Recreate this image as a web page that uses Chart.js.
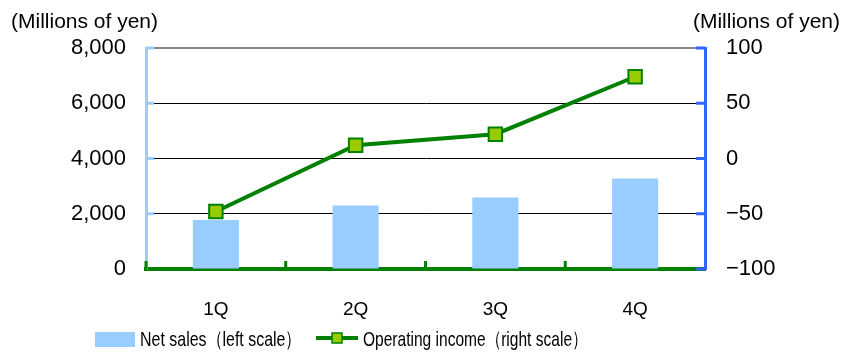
<!DOCTYPE html>
<html>
<head>
<meta charset="utf-8">
<script src="https://cdn.jsdelivr.net/npm/chart.js@4/dist/chart.umd.min.js"></script>
<style>
  html, body { margin: 0; padding: 0; background: #fff; }
  #wrap { width: 843px; height: 352px; }
</style>
</head>
<body>
<div id="wrap"><canvas id="salesChart" width="843" height="352"></canvas></div>
<script>
// quarterly figures
const quarters = ['1Q', '2Q', '3Q', '4Q'];
const netSales = [1770, 2300, 2590, 3280];
const operatingIncome = [-48, 12, 22, 74];
const salesTicks = [0, 2000, 4000, 6000, 8000];
const incomeTicks = [-100, -50, 0, 50, 100];

const unitLabel = '(Millions of yen)';
const salesLegend = 'Net sales（left scale）';
const incomeLegend = 'Operating income（right scale）';

const GREEN = '#008000';
const LIME = '#99cc00';
const SKY = '#99ccff';
const BLUE = '#3366ff';
const FAMILY = 'Liberation Sans, Arial, sans-serif';
const tickFont = { family: FAMILY, size: 22 };

function fmtMinus(v) {
  return v < 0 ? '\u2212' + Math.abs(v) : String(v);
}

// legend text is set in a condensed face; squeeze it horizontally
function narrowText(ctx, text, x, y, squeeze) {
  ctx.save();
  ctx.translate(x, y);
  ctx.scale(squeeze, 1);
  ctx.fillText(text, 0, 0);
  ctx.restore();
}

// axis ornaments, unit captions and the legend
const decorations = {
  id: 'decorations',
  afterDraw(chart) {
    const { ctx, chartArea: a, scales } = chart;
    ctx.save();

    // inward ticks on the left axis
    ctx.fillStyle = SKY;
    salesTicks.forEach(v => {
      if (v === 0) return;
      const y = scales.y.getPixelForValue(v);
      ctx.fillRect(a.left, y - 1.5, 8, 3);
    });
    // inward ticks on the right axis
    ctx.fillStyle = BLUE;
    incomeTicks.forEach(v => {
      const y = scales.y1.getPixelForValue(v);
      ctx.fillRect(a.right - 9, y - 1.5, 9, 3);
    });
    // upward ticks between categories
    ctx.fillStyle = GREEN;
    for (let i = 0; i < quarters.length; i++) {
      const x = i === 0 ? a.left : (scales.x.getPixelForValue(i - 1) + scales.x.getPixelForValue(i)) / 2;
      ctx.fillRect(x - 1.5, a.bottom - 8, 3, 9);
    }

    // unit captions
    ctx.fillStyle = '#000';
    ctx.font = '21px ' + FAMILY;
    ctx.textBaseline = 'middle';
    ctx.textAlign = 'left';
    ctx.fillText(unitLabel, 11, 22);
    ctx.textAlign = 'right';
    ctx.fillText(unitLabel, 840, 22);

    // legend
    const ly = 339;
    ctx.fillStyle = SKY;
    ctx.fillRect(95, 332, 40, 15);
    ctx.fillStyle = '#000';
    ctx.textAlign = 'left';
    ctx.font = '21px ' + FAMILY;
    narrowText(ctx, salesLegend, 140, ly + 1, 0.76);

    ctx.strokeStyle = GREEN;
    ctx.lineWidth = 4;
    ctx.beginPath();
    ctx.moveTo(316, ly - 1);
    ctx.lineTo(358, ly - 1);
    ctx.stroke();
    ctx.fillStyle = LIME;
    ctx.fillRect(332, ly - 6, 10, 10);
    ctx.lineWidth = 1.5;
    ctx.strokeRect(332, ly - 6, 10, 10);
    ctx.fillStyle = '#000';
    narrowText(ctx, incomeLegend, 363, ly + 1, 0.74);

    ctx.restore();
  }
};

const ctx = document.getElementById('salesChart').getContext('2d');
new Chart(ctx, {
  data: {
    labels: quarters,
    datasets: [
      {
        type: 'line',
        label: 'Operating income',
        data: operatingIncome,
        yAxisID: 'y1',
        order: 1,
        borderColor: GREEN,
        borderWidth: 4,
        tension: 0,
        pointStyle: 'rect',
        pointRadius: 9.5,
        pointBackgroundColor: LIME,
        pointBorderColor: GREEN,
        pointBorderWidth: 2
      },
      {
        type: 'bar',
        label: 'Net sales',
        data: netSales,
        yAxisID: 'y',
        order: 2,
        backgroundColor: SKY,
        barPercentage: 0.33,
        categoryPercentage: 1
      }
    ]
  },
  options: {
    responsive: false,
    animation: false,
    layout: { padding: { top: 48, bottom: 25, left: 0, right: 0 } },
    plugins: { legend: { display: false }, tooltip: { enabled: false } },
    scales: {
      x: {
        offset: true,
        grid: { display: false, drawTicks: false },
        border: { color: GREEN, width: 4 },
        ticks: { color: '#000', padding: 29, font: { family: FAMILY, size: 19 } },
        afterFit(s) { s.height = 58; }
      },
      y: {
        position: 'left',
        min: 0,
        max: 8000,
        afterBuildTicks(s) { s.ticks = salesTicks.map(v => ({ value: v })); },
        ticks: {
          color: '#000',
          padding: 20,
          font: tickFont,
          callback: v => v.toLocaleString('en-US')
        },
        grid: {
          drawTicks: false,
          color: c => c.tick.value === 8000 ? '#888888' : (c.tick.value === 0 ? 'rgba(0,0,0,0)' : '#000'),
          lineWidth: c => c.tick.value === 8000 ? 2 : 1
        },
        border: { color: SKY, width: 3 },
        afterFit(s) { s.width = 146; }
      },
      y1: {
        position: 'right',
        min: -100,
        max: 100,
        afterBuildTicks(s) { s.ticks = incomeTicks.map(v => ({ value: v })); },
        ticks: { color: '#000', padding: 21, font: tickFont, callback: v => fmtMinus(v) },
        grid: { drawOnChartArea: false, drawTicks: false },
        border: { color: BLUE, width: 3 },
        afterFit(s) { s.width = 138; }
      }
    }
  },
  plugins: [decorations]
});
</script>
</body>
</html>
